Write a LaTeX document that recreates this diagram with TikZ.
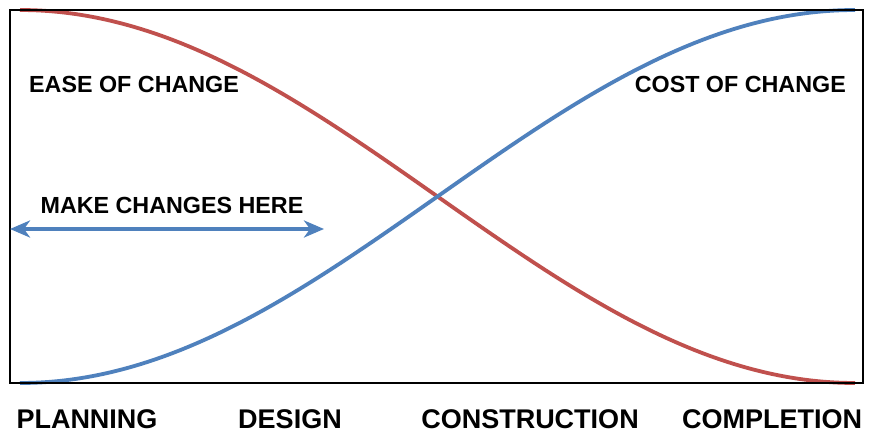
\documentclass[tikz,border=0pt]{standalone}
\usepackage{fontspec}
\setmainfont{Liberation Sans}
\usetikzlibrary{arrows.meta}
\definecolor{ofred}{RGB}{192,80,77}
\definecolor{ofblue}{RGB}{79,129,189}
\tikzset{
  curve/.style={line width=3.8pt},
  lbl/.style={font=\bfseries\fontsize{23.3}{24}\selectfont, inner sep=0pt, text=black},
  phase/.style={font=\bfseries\fontsize{27}{28}\selectfont, inner sep=0pt, text=black, anchor=base},
  dbl/.style={ofblue, line width=4pt, {Stealth[length=20pt,width=17pt,inset=6pt]}-{Stealth[length=20pt,width=17pt,inset=6pt]}}
}
\begin{document}
\begin{tikzpicture}[x=1pt,y=-1pt]
\useasboundingbox (0,0) rectangle (873,433);
\fill[white] (0,0) rectangle (873,433);
% curves
\draw[curve, ofred] plot[domain=0:180, samples=90, smooth] ({20+4.63889*\x},{10+186.5*(1-cos(\x))});
\draw[curve, ofblue] plot[domain=0:180, samples=90, smooth] ({20+4.63889*\x},{383-186.5*(1-cos(\x))});
% frame
\draw[line width=2pt, black] (10,10) rectangle (863,383);
% labels
\node[lbl, anchor=west] (ease) at (29,84) {EASE OF CHANGE};
\node[lbl, anchor=east] (cost) at (846,84) {COST OF CHANGE};
\node[lbl] (make) at (172,205) {MAKE CHANGES HERE};
\coordinate (aL) at (10,229);
\coordinate (aR) at (324,229);
\draw[dbl] (aL) -- (aR);
% phases
\node[phase] (plan) at (87,428) {PLANNING};
\node[phase] (design) at (290,428) {DESIGN};
\node[phase] (constr) at (530,428) {CONSTRUCTION};
\node[phase] (compl) at (772,428) {COMPLETION};
\end{tikzpicture}
\end{document}
